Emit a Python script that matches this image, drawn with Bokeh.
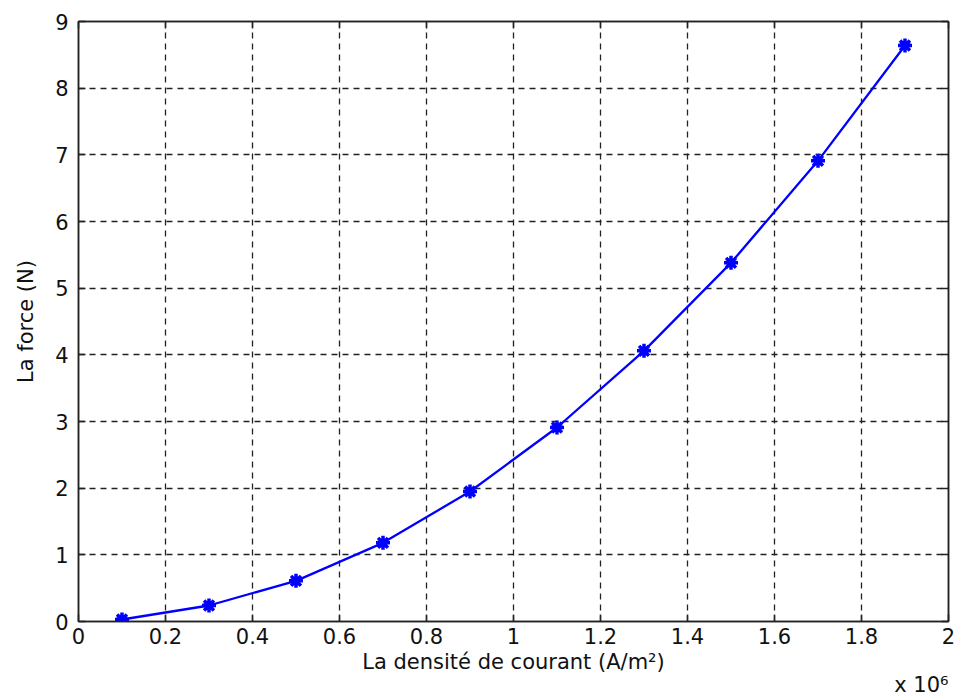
from bokeh.plotting import figure
from bokeh.models import LinearAxis, FixedTicker, Title, Range1d
from bokeh.embed import file_html
from bokeh.resources import INLINE

# Data (current density in A/m^2, force in N)
densite = [1e5, 3e5, 5e5, 7e5, 9e5, 1.1e6, 1.3e6, 1.5e6, 1.7e6, 1.9e6]
force = [0.03, 0.24, 0.61, 1.18, 1.95, 2.91, 4.06, 5.38, 6.91, 8.64]
scale = 1e6
x_ticks = [0, 0.2, 0.4, 0.6, 0.8, 1, 1.2, 1.4, 1.6, 1.8, 2]
x_tick_labels = ["0", "0.2", "0.4", "0.6", "0.8", "1", "1.2", "1.4", "1.6", "1.8", "2"]
y_ticks = [0, 1, 2, 3, 4, 5, 6, 7, 8, 9]
scale_text = "x 10⁶"

FONT = "DejaVu Sans"
FS = "21px"

x = [d / scale for d in densite]

p = figure(output_backend="svg", toolbar_location=None,
           frame_width=870, frame_height=600,
           min_border_left=78, min_border_right=8, min_border_top=21, min_border_bottom=72,
           x_range=Range1d(0, 2), y_range=Range1d(0, 9))
p.background_fill_color = "white"
p.border_fill_color = "white"
p.outline_line_color = "#222222"
p.outline_line_width = 1.5

def style_axis(ax, ticks, show_labels=True):
    ax.ticker = FixedTicker(ticks=ticks)
    ax.axis_line_color = "#222222"
    ax.axis_line_width = 1.5
    ax.major_tick_in = 7
    ax.major_tick_out = 0
    ax.major_tick_line_color = "#222222"
    ax.major_tick_line_width = 1.5
    ax.minor_tick_line_color = None
    ax.major_label_text_font = FONT
    ax.major_label_text_font_size = FS if show_labels else "0px"
    ax.major_label_text_color = "#111111"
    ax.axis_label_text_font = FONT
    ax.axis_label_text_font_size = FS
    ax.axis_label_text_font_style = "normal"
    ax.axis_label_text_color = "#111111"

xa = p.xaxis[0]
style_axis(xa, x_ticks)
xa.major_label_overrides = {t: l for t, l in zip(x_ticks, x_tick_labels)}
xa.axis_label = "La densité de courant (A/m²)"
xa.major_label_standoff = 6
xa.axis_label_standoff = 3

ya = p.yaxis[0]
style_axis(ya, y_ticks)
ya.axis_label = "La force (N)"
ya.major_label_standoff = 10
ya.axis_label_standoff = 14

top = LinearAxis()
style_axis(top, x_ticks, show_labels=False)
top.major_label_standoff = 0
p.add_layout(top, "above")
right = LinearAxis()
style_axis(right, y_ticks, show_labels=False)
right.major_label_standoff = 0
p.add_layout(right, "right")

p.xgrid.ticker = FixedTicker(ticks=x_ticks)
p.ygrid.ticker = FixedTicker(ticks=y_ticks)
for g in (p.xgrid[0], p.ygrid[0]):
    g.grid_line_color = "#222222"
    g.grid_line_dash = "6 5"
    g.grid_line_width = 1.3

p.line(x, force, line_color="#0000ff", line_width=2.3)
p.scatter(x, force, marker="asterisk", size=14, line_color="#0000ff", line_width=3.5)
p.scatter(x, force, marker="star", size=11, fill_color="#0000ff", line_color="#0000ff")

p.add_layout(Title(text=scale_text, align="right", standoff=-12,
                   text_font=FONT, text_font_size="21px", text_font_style="normal",
                   text_color="#111111"), "below")

open("out.html", "w").write(file_html(p, INLINE))
